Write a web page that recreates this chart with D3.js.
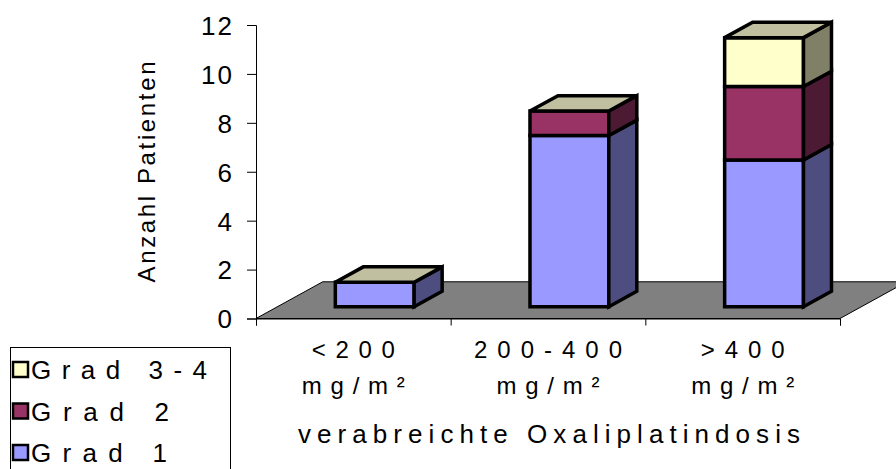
<!DOCTYPE html>
<html><head><meta charset="utf-8">
<script src="https://cdn.jsdelivr.net/npm/d3@7"></script>
<style>
html,body{margin:0;padding:0;background:#fff;}
svg{display:block;font-family:"Liberation Sans",Arial,sans-serif;}
</style></head>
<body><svg id="c" width="896" height="469"></svg>
<script>
// ---- data ----
const categories = ["<200|mg/m²", "200-400|mg/m²", ">400|mg/m²"];
const seriesNames = ["Grad 1", "Grad 2", "Grad 3-4"];
const grad1 = [1, 7, 6];
const grad2 = [0, 1, 3];
const grad34 = [0, 0, 2];
const yTicks = [0, 2, 4, 6, 8, 10, 12];
const yTitle = "Anzahl Patienten";
const xTitle = "verabreichte Oxaliplatindosis";

const seriesValues = [grad1, grad2, grad34];
const frontColors = ["#9999FF", "#993366", "#FFFFCC"];
const sideColors = ["#4D4D80", "#4D1A33", "#808066"];
const topColors = ["#7373BF", "#73264D", "#C0C0A0"];

const svg = d3.select("#c");
const x0 = 256, x1 = 840, yBase = 318.5, yTop = 25;
const y = d3.scaleLinear().domain([0, 12]).range([yBase, yTop]);
const x = d3.scaleBand().domain(categories).range([x0, x1]).paddingInner(0.595).paddingOuter(0.2975);

// floor
const fdx = 66.7, fdy = -36.7;
svg.append("polygon")
  .attr("points", [[x0, yBase], [x1, yBase], [x1 + fdx, yBase + fdy], [x0 + fdx, yBase + fdy]].map(p => p.join(",")).join(" "))
  .attr("fill", "#808080").attr("stroke", "#000").attr("stroke-width", 1);

// y axis
const yAxis = d3.axisLeft(y).tickValues(yTicks).tickSize(9).tickPadding(13).tickFormat(d3.format("d"));
const gy = svg.append("g").attr("transform", `translate(${x0},0)`).call(yAxis);
gy.select(".domain").attr("stroke", "#000");
gy.selectAll(".tick line").attr("stroke", "#000");
gy.selectAll(".tick text").attr("font-size", 26).attr("fill", "#000")
  .attr("font-family", "Liberation Sans, Arial, sans-serif")
  .style("letter-spacing", "2px").attr("dy", "0.36em");

// x axis ticks (category boundaries)
const xAxis = d3.axisBottom(d3.scaleLinear().domain([0, 3]).range([x0, x1])).tickValues([0, 1, 2, 3]).tickSize(7).tickFormat("");
const gx = svg.append("g").attr("transform", `translate(0,${yBase})`).call(xAxis);
gx.select(".domain").attr("stroke", "#000");
gx.selectAll(".tick line").attr("stroke", "#000");

// bars
const offX = 21.4, offY = -11.8, dX = 28, dY = -15.4;
const bw = x.bandwidth();
categories.forEach((c, i) => {
  let acc = 0;
  const g = svg.append("g");
  seriesValues.forEach((vals, s) => {
    const v0 = acc, v1 = acc + vals[i];
    acc = v1;
    const L = x(c) + offX, R = L + bw;
    const B = y(v0) + offY, T = y(v1) + offY;
    const pts = a => a.map(p => p.join(",")).join(" ");
    if (v1 > v0) {
      g.append("polygon").attr("points", pts([[L, B], [R, B], [R, T], [L, T]]))
        .attr("fill", frontColors[s]).attr("stroke", "#000").attr("stroke-width", 3.5).attr("stroke-linejoin", "miter");
      g.append("polygon").attr("points", pts([[R, B], [R + dX, B + dY], [R + dX, T + dY], [R, T]]))
        .attr("fill", sideColors[s]).attr("stroke", "#000").attr("stroke-width", 3.5).attr("stroke-linejoin", "miter");
    }
    if (s === seriesValues.length - 1) {
      g.append("polygon").attr("points", pts([[L, T], [R, T], [R + dX, T + dY], [L + dX, T + dY]]))
        .attr("fill", topColors[s]).attr("stroke", "#000").attr("stroke-width", 3.5).attr("stroke-linejoin", "miter");
    }
  });
});

// x labels
const xLen1 = [83, 148, 84];
categories.forEach((c, i) => {
  const cx = x(c) + bw / 2;
  const parts = c.split("|");
  svg.append("text").attr("x", cx).attr("y", 358).attr("text-anchor", "middle")
    .attr("font-size", 24).attr("textLength", xLen1[i]).attr("lengthAdjust", "spacing").text(parts[0]);
  svg.append("text").attr("x", cx).attr("y", 394).attr("text-anchor", "middle")
    .attr("font-size", 24).attr("textLength", 103).attr("lengthAdjust", "spacing").text(parts[1]);
});

// titles
svg.append("text").attr("x", 549).attr("y", 443).attr("text-anchor", "middle")
  .attr("font-size", 26).attr("textLength", 502).attr("lengthAdjust", "spacing").text(xTitle);
svg.append("text").attr("transform", "translate(155,172) rotate(-90)").attr("text-anchor", "middle")
  .attr("font-size", 24).attr("textLength", 221).attr("lengthAdjust", "spacing").text(yTitle);

// legend
svg.append("rect").attr("x", 10.5).attr("y", 347.5).attr("width", 220).attr("height", 140)
  .attr("fill", "#fff").attr("stroke", "#000").attr("stroke-width", 1);
const legOrder = [2, 1, 0];
const legLen = [176, 138, 136];
legOrder.forEach((s, k) => {
  const base = 379 + k * 41.5;
  svg.append("rect").attr("x", 13).attr("y", base - 17).attr("width", 15).attr("height", 15)
    .attr("fill", frontColors[s]).attr("stroke", "#000").attr("stroke-width", 2.5);
  svg.append("text").attr("x", 31).attr("y", base).attr("font-size", 26)
    .attr("textLength", legLen[k]).attr("lengthAdjust", "spacing").text(seriesNames[s]);
});
</script>
</body></html>
